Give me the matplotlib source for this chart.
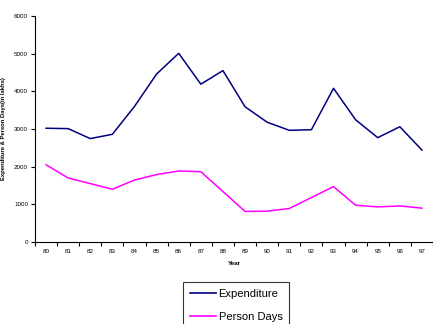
import matplotlib

matplotlib.use("Agg")
import matplotlib.pyplot as plt
import numpy as np

plt.rcParams["font.family"] = ["Liberation Sans", "DejaVu Sans"]

years = ["80", "81", "82", "83", "84", "85", "86", "87", "88",
         "89", "90", "91", "92", "93", "94", "95", "96", "97"]
expenditure = [3020, 3010, 2745, 2860, 3600, 4460, 5010, 4190, 4550,
               3590, 3180, 2965, 2980, 4080, 3245, 2770, 3060, 2440]
person_days = [2050, 1700, 1550, 1400, 1645, 1790, 1885, 1866, 1340,
               810, 818, 890, 1180, 1470, 977, 932, 958, 898]

NAVY = "#000080"
MAGENTA = "#ff00ff"

fig = plt.figure(figsize=(4.33, 3.24), dpi=100)
ax = fig.add_axes([35 / 433, 1 - 242 / 324, 398 / 433, 226 / 324])

x = np.arange(len(years))
ax.plot(x, expenditure, color=NAVY, lw=1.1, label="Expenditure")
ax.plot(x, person_days, color=MAGENTA, lw=1.1, label="Person Days")

ax.set_xlim(-0.5, len(years) - 0.5)
ax.set_ylim(0, 6000)
ax.set_yticks(range(0, 6001, 1000))
ax.set_xticks(x)
ax.set_xticklabels(years)
ax.set_xticks(np.arange(-0.5, len(years)), minor=True)
ax.tick_params(axis="x", which="major", length=0, labelsize=4.5, pad=5)
ax.tick_params(axis="x", which="minor", length=3, width=0.8, direction="out")
ax.tick_params(axis="y", length=3, width=0.8, labelsize=4.5, pad=2)
ax.spines[["top", "right"]].set_visible(False)
ax.spines[["left", "bottom"]].set_linewidth(0.8)

ax.set_xlabel("Year", fontsize=4.5, weight="bold", labelpad=5)
ax.set_ylabel("Expenditure & Person Days(in lakhs)", fontsize=4.2, weight="bold", labelpad=6)

leg = fig.legend(loc="upper left", bbox_to_anchor=(183 / 433, 1 - 282 / 324),
                 borderaxespad=0, fontsize=8, frameon=True, fancybox=False,
                 edgecolor="black", handlelength=2.4, labelspacing=1.2,
                 borderpad=0.6, handletextpad=0.2)
leg.get_frame().set_linewidth(0.8)
for line in leg.get_lines():
    line.set_linewidth(1.2)

fig.savefig("out.png", dpi=100)
